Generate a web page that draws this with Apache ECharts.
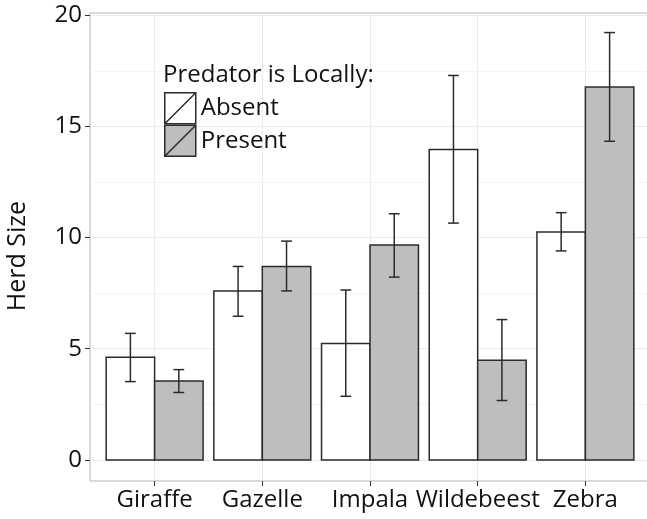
<!DOCTYPE html>
<html><head><meta charset="utf-8">
<script src="https://cdn.jsdelivr.net/npm/echarts@6/dist/echarts.min.js"></script>
<style>html,body{margin:0;padding:0;background:#fff}#c{width:647px;height:519px}</style>
</head><body><div id="c"></div>
<script>
const categories = ['Giraffe', 'Gazelle', 'Impala', 'Wildebeest', 'Zebra'];
const seriesNames = ['Absent', 'Present'];
const absentMean = [4.62, 7.60, 5.24, 13.96, 10.25];
const absentLow = [3.52, 6.46, 2.86, 10.65, 9.40];
const absentHigh = [5.69, 8.70, 7.64, 17.29, 11.12];
const presentMean = [3.55, 8.70, 9.66, 4.48, 16.77];
const presentLow = [3.03, 7.60, 8.22, 2.67, 14.33];
const presentHigh = [4.06, 9.84, 11.07, 6.31, 19.22];
const yTicks = [0, 5, 10, 15, 20];
const yMinorTicks = [2.5, 7.5, 12.5, 17.5];
const xTicks = categories.map((c, i) => i);
const legendTitle = 'Predator is Locally:';
const yTitle = 'Herd Size';

const FONT = 'Open Sans';
const TXT = '#111';
const EDGE = '#2b2b2b';
const fills = ['#ffffff', '#bebebe'];
const DODGE = 0.45;   // width of one bar in category units (ggplot dodge 0.9 / 2)

function barData(means) { return means.map((v, i) => [i, v]); }
function errData(lo, hi) { return lo.map((v, i) => [i, v, hi[i]]); }

function barRender(sign, fill) {
  return function (params, api) {
    const i = api.value(0), v = api.value(1);
    const x0 = sign < 0 ? i - DODGE : i;
    const pTop = api.coord([x0, v]);
    const pBase = api.coord([x0 + DODGE, 0]);
    return {
      type: 'rect',
      shape: { x: pTop[0], y: pTop[1], width: pBase[0] - pTop[0], height: pBase[1] - pTop[1] },
      style: { fill: fill, stroke: EDGE, lineWidth: 1.5 }
    };
  };
}

function errRender(sign) {
  return function (params, api) {
    const i = api.value(0), lo = api.value(1), hi = api.value(2);
    const pLo = api.coord([i + sign * DODGE / 2, lo]);
    const pHi = api.coord([i + sign * DODGE / 2, hi]);
    const half = api.size([0.05, 0])[0];
    const x = pLo[0];
    const st = { stroke: EDGE, lineWidth: 1.5 };
    return {
      type: 'group',
      children: [
        { type: 'line', shape: { x1: x, y1: pLo[1], x2: x, y2: pHi[1] }, style: st },
        { type: 'line', shape: { x1: x - half, y1: pHi[1], x2: x + half, y2: pHi[1] }, style: st },
        { type: 'line', shape: { x1: x - half, y1: pLo[1], x2: x + half, y2: pLo[1] }, style: st }
      ]
    };
  };
}

const chart = echarts.init(document.getElementById('c'), null, { renderer: 'canvas' });
const legendIcon = 'path://M0,0L1,0L1,1L0,1Z M0,1L1,0';
chart.setOption({
  animation: false,
  backgroundColor: '#fff',
  textStyle: { fontFamily: FONT },
  title: {
    text: legendTitle, left: 163, top: 63, padding: 0,
    textStyle: { fontFamily: FONT, fontSize: 24, fontWeight: 'normal', color: TXT }
  },
  legend: {
    orient: 'vertical', left: 164, top: 92, padding: 0,
    itemWidth: 31, itemHeight: 31, itemGap: 0,
    textStyle: { fontFamily: FONT, fontSize: 24, color: TXT },
    data: [
      { name: 'Absent', icon: legendIcon, itemStyle: { color: fills[0], borderColor: EDGE, borderWidth: 1.5 } },
      { name: 'Present', icon: legendIcon, itemStyle: { color: fills[1], borderColor: EDGE, borderWidth: 1.5 } }
    ]
  },
  grid: {
    left: 90, top: 13, width: 560, bottom: 38,
    show: true, borderColor: '#b5b5b5', borderWidth: 1, backgroundColor: 'transparent',
    outerBoundsMode: 'none', containLabel: false
  },
  xAxis: {
    type: 'value', min: -0.6, max: 4.6,
    axisLine: { show: false, onZero: false },
    axisTick: { show: true, length: 5, customValues: xTicks, lineStyle: { color: '#333', width: 1 } },
    axisLabel: {
      customValues: xTicks, margin: 7, fontFamily: FONT, fontSize: 24, color: TXT,
      formatter: v => categories[Math.round(v)]
    },
    splitLine: { show: true, lineStyle: { color: '#ebebeb', width: 1 } }
  },
  yAxis: [
    {
      type: 'value', min: -0.95, max: 20.1, position: 'left',
      name: yTitle, nameLocation: 'middle', nameGap: 60, nameRotate: 90,
      nameTextStyle: { fontFamily: FONT, fontSize: 25, color: TXT, padding: [0, 18, 0, 0] },
      axisLine: { show: false, onZero: false },
      axisTick: { show: true, length: 5, customValues: yTicks, lineStyle: { color: '#333', width: 1 } },
      axisLabel: { customValues: yTicks, margin: 8, fontFamily: FONT, fontSize: 24, color: TXT },
      splitLine: { show: true, lineStyle: { color: '#ebebeb', width: 1 } }
    },
    {
      type: 'value', min: -0.95, max: 20.1, position: 'left',
      axisLine: { show: false, onZero: false },
      axisTick: { show: false, customValues: yMinorTicks },
      axisLabel: { show: false, customValues: yMinorTicks },
      splitLine: { show: true, lineStyle: { color: '#f4f4f4', width: 1 } }
    }
  ],
  series: [
    {
      name: seriesNames[0], type: 'custom', data: barData(absentMean),
      encode: { x: 0, y: 1 }, renderItem: barRender(-1, fills[0]),
      itemStyle: { color: fills[0], borderColor: EDGE, borderWidth: 1.5 }, z: 2
    },
    {
      name: seriesNames[1], type: 'custom', data: barData(presentMean),
      encode: { x: 0, y: 1 }, renderItem: barRender(1, fills[1]),
      itemStyle: { color: fills[1], borderColor: EDGE, borderWidth: 1.5 }, z: 2
    },
    {
      name: 'err-absent', type: 'custom', data: errData(absentLow, absentHigh),
      encode: { x: 0, y: [1, 2] }, renderItem: errRender(-1), z: 3, clip: false
    },
    {
      name: 'err-present', type: 'custom', data: errData(presentLow, presentHigh),
      encode: { x: 0, y: [1, 2] }, renderItem: errRender(1), z: 3, clip: false
    }
  ]
});
</script></body></html>
